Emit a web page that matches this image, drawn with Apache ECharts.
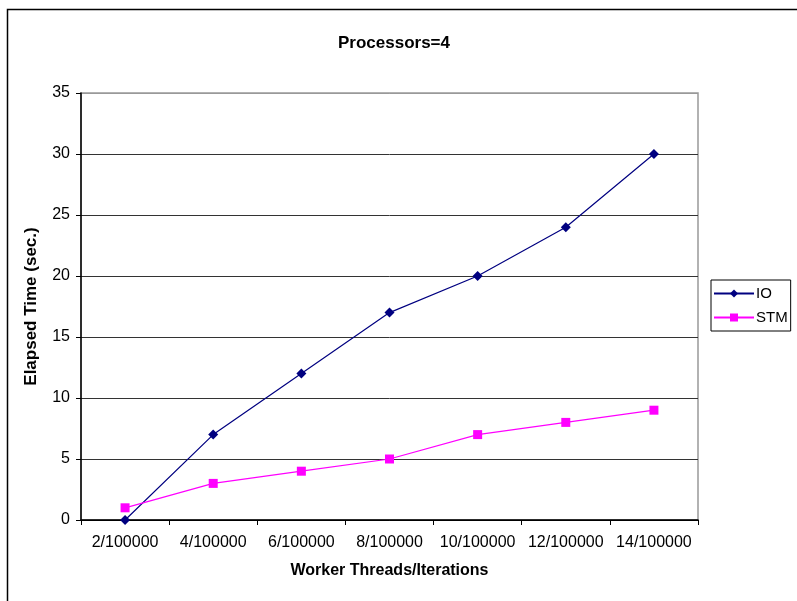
<!DOCTYPE html>
<html>
<head>
<meta charset="utf-8">
<script src="https://cdn.jsdelivr.net/npm/echarts@6/dist/echarts.min.js"></script>
<style>
html,body{margin:0;padding:0;background:#fff;}
#c{width:797px;height:601px;}
</style>
</head>
<body>
<div id="c"></div>
<script>
const categories = ['2/100000','4/100000','6/100000','8/100000','10/100000','12/100000','14/100000'];
const ioValues = [0, 7, 12, 17, 20, 24, 30];
const stmValues = [1, 3, 4, 5, 7, 8, 9];
const yTicks = [0, 5, 10, 15, 20, 25, 30, 35];

const FONT = '"Liberation Sans", Arial, sans-serif';
const chart = echarts.init(document.getElementById('c'), null, {renderer: 'canvas'});
chart.setOption({
  backgroundColor: '#fff',
  animation: false,
  textStyle: {fontFamily: FONT},
  graphic: [{
    type: 'rect', left: 5, top: 7, z: -10,
    shape: {width: 820, height: 620},
    style: {fill: 'none', stroke: '#000', lineWidth: 1.5}
  }],
  title: {
    text: 'Processors=4', left: 389, top: 30, textAlign: 'center',
    textStyle: {fontFamily: FONT, fontSize: 17, fontWeight: 'bold', color: '#000'}
  },
  legend: {
    left: 711, top: 280, orient: 'vertical',
    itemWidth: 40, itemHeight: 10, itemGap: 9,
    padding: [6, 3, 6, 2],
    borderColor: '#000', borderWidth: 1,
    textStyle: {fontFamily: FONT, fontSize: 15, color: '#000', padding: [0,0,0,-3]},
    data: ['IO', 'STM']
  },
  grid: {left: 81, right: 99, top: 93, bottom: 81, show: true, borderColor: '#999', borderWidth: 1.5, backgroundColor: '#fff'},
  xAxis: {
    type: 'category', data: categories, boundaryGap: true,
    name: 'Worker Threads/Iterations', nameLocation: 'middle', nameGap: 43,
    nameTextStyle: {fontFamily: FONT, fontSize: 16, fontWeight: 'bold', color: '#000'},
    axisLine: {lineStyle: {color: '#000', width: 1.5}},
    axisTick: {show: true, length: 5, alignWithLabel: false, lineStyle: {color: '#000'}},
    axisLabel: {fontFamily: FONT, fontSize: 16, color: '#000', margin: 15, interval: 0},
    splitLine: {show: false}
  },
  yAxis: {
    type: 'value', min: yTicks[0], max: yTicks[yTicks.length-1], interval: 5,
    name: 'Elapsed Time (sec.)', nameLocation: 'middle', nameGap: 41, nameRotate: 90,
    nameTextStyle: {fontFamily: FONT, fontSize: 17, fontWeight: 'bold', color: '#000'},
    axisLine: {show: true, lineStyle: {color: '#000', width: 1.5}},
    axisTick: {show: true, length: 5, lineStyle: {color: '#000'}},
    axisLabel: {fontFamily: FONT, fontSize: 16, color: '#000', margin: 11},
    splitLine: {show: true, lineStyle: {color: ['#000','#333','#333','#333','#333','#333','#333','#999'], width: 1}}
  },
  series: [
    {
      name: 'IO', type: 'line', data: ioValues,
      symbol: 'diamond', symbolSize: 10,
      lineStyle: {color: '#000080', width: 1.2},
      itemStyle: {color: '#000080'}
    },
    {
      name: 'STM', type: 'line', data: stmValues,
      symbol: 'rect', symbolSize: 9,
      lineStyle: {color: '#ff00ff', width: 1.2},
      itemStyle: {color: '#ff00ff'}
    }
  ]
});
</script>
</body>
</html>
